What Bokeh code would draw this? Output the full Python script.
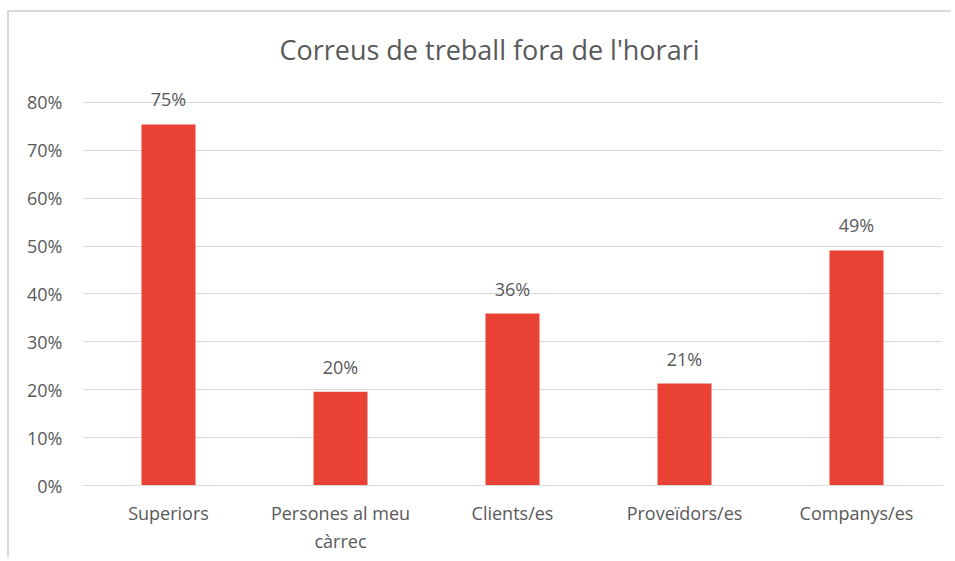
from bokeh.plotting import figure
from bokeh.models import ColumnDataSource, FixedTicker, Label, NumeralTickFormatter
from bokeh.core.properties import value
from bokeh.embed import file_html
from bokeh.resources import INLINE

categories = ["Superiors", "Persones al meu\ncàrrec", "Clients/es", "Proveïdors/es", "Companys/es"]
values = [0.754, 0.196, 0.359, 0.213, 0.491]
value_labels = ["75%", "20%", "36%", "21%", "49%"]
y_ticks = [0.0, 0.1, 0.2, 0.3, 0.4, 0.5, 0.6, 0.7, 0.8]
title_text = "Correus de treball fora de l'horari"

FONT = "Open Sans"
TXT = "#595959"
GRID = "#D9D9D9"
BAR = "#E94235"

src = ColumnDataSource(dict(cat=categories, val=values, lab=value_labels))

p = figure(
    x_range=categories, y_range=(0, 0.967),
    width=944, height=547,
    output_backend="svg", toolbar_location=None,
    min_border_left=73, min_border_right=11,
    min_border_top=10, min_border_bottom=74,
)
p.styles = {"border-left": f"2px solid {GRID}", "border-top": f"2px solid {GRID}",
            "margin-top": "10px", "margin-left": "7px"}
p.x_range.range_padding = 0
p.outline_line_color = None
p.background_fill_color = "white"
p.border_fill_color = "white"

p.vbar(x="cat", top="val", width=0.314, source=src, fill_color=BAR, line_color=None)
p.text(x="cat", y="val", text="lab", source=src, y_offset=-25,
       text_align="center", text_baseline="alphabetic",
       text_font=value(FONT), text_font_size="18px", text_color=TXT)

# axes
p.yaxis.ticker = FixedTicker(ticks=y_ticks)
p.yaxis.formatter = NumeralTickFormatter(format="0%")
p.yaxis.axis_line_color = None
p.yaxis.major_tick_line_color = None
p.yaxis.minor_tick_line_color = None
p.yaxis.major_tick_out = 0
p.yaxis.major_tick_in = 0
p.yaxis.minor_tick_out = 0
p.yaxis.major_label_standoff = 20
p.yaxis.major_label_text_font = FONT
p.yaxis.major_label_text_font_size = "18px"
p.yaxis.major_label_text_color = TXT

p.xaxis.axis_line_color = GRID
p.xaxis.axis_line_width = 1
p.xaxis.major_tick_line_color = None
p.xaxis.minor_tick_line_color = None
p.xaxis.major_tick_out = 0
p.xaxis.major_tick_in = 0
p.xaxis.major_label_standoff = 15
p.xaxis.major_label_text_font = FONT
p.xaxis.major_label_text_font_size = "18px"
p.xaxis.major_label_text_color = TXT

p.xgrid.grid_line_color = None
p.ygrid.grid_line_color = GRID
p.ygrid.grid_line_width = 1

p.add_layout(Label(x=2.366, y=0.91, text=title_text, text_align="center",
                   text_baseline="middle", text_font=FONT, text_font_size="27px",
                   text_color=TXT))

open("out.html", "w").write(file_html(p, INLINE))
